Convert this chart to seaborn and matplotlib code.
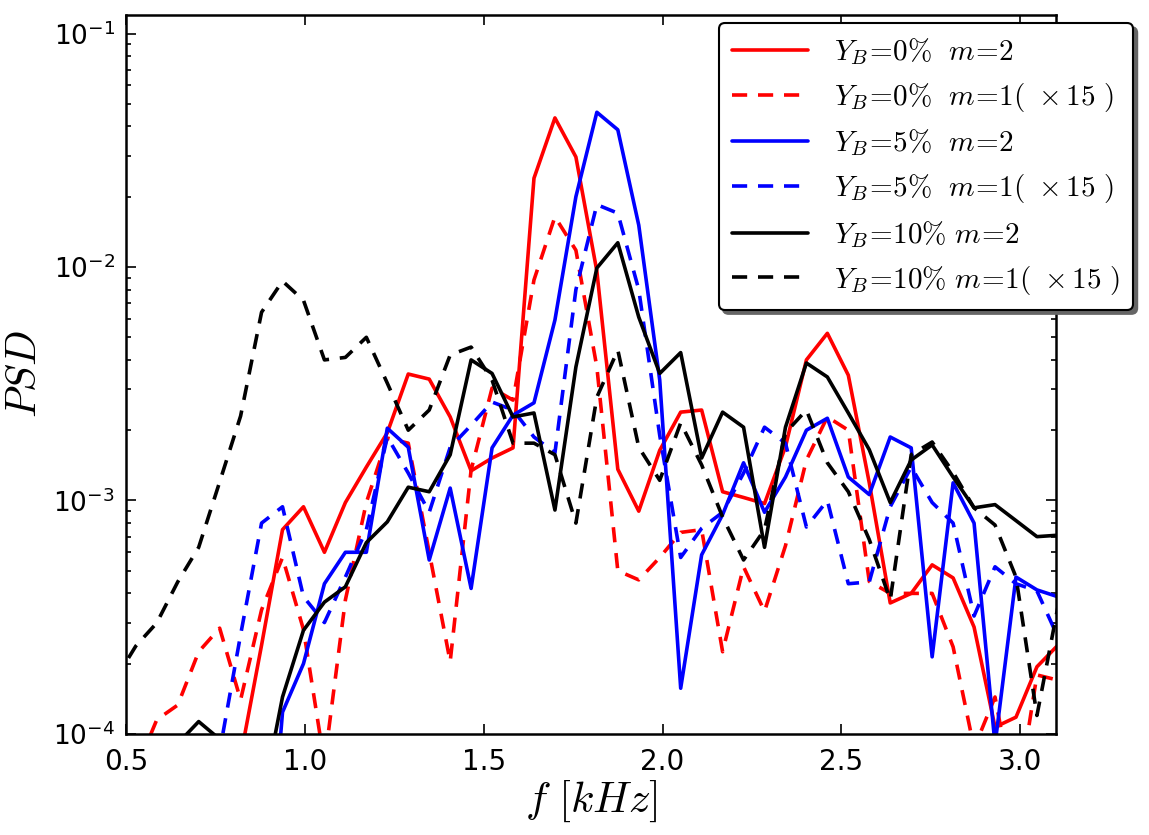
import matplotlib
matplotlib.use("Agg")
import matplotlib.pyplot as plt
from matplotlib.font_manager import FontProperties
import seaborn as sns
import numpy as np

# frequency bins [kHz]
freq = [0.4688, 0.5273, 0.5859, 0.6445, 0.7031, 0.7617, 0.8203, 0.8789, 0.9375, 0.9961,
        1.0547, 1.1133, 1.1719, 1.2305, 1.2891, 1.3477, 1.4063, 1.4648, 1.5234, 1.5820,
        1.6406, 1.6992, 1.7578, 1.8164, 1.8750, 1.9336, 1.9922, 2.0508, 2.1094, 2.1680,
        2.2266, 2.2852, 2.3438, 2.4023, 2.4609, 2.5195, 2.5781, 2.6367, 2.6953, 2.7539,
        2.8125, 2.8711, 2.9297, 2.9883, 3.0469, 3.1055]

# Y_B = 0%
yb0_m2 = [2e-5, 2e-5, 2e-5, 2.5e-5, 3e-5, 4e-5, 8.0e-5, 2.4e-4, 7.5e-4, 9.4e-4,
          6.0e-4, 9.8e-4, 1.39e-3, 1.95e-3, 3.48e-3, 3.31e-3, 2.28e-3, 1.34e-3, 1.52e-3, 1.68e-3,
          2.4e-2, 4.35e-2, 2.96e-2, 9.6e-3, 1.36e-3, 9.0e-4, 1.64e-3, 2.39e-3, 2.44e-3, 1.09e-3,
          1.03e-3, 9.7e-4, 1.7e-3, 4.0e-3, 5.2e-3, 3.44e-3, 1.19e-3, 3.64e-4, 4.0e-4, 5.3e-4,
          4.66e-4, 2.87e-4, 1.07e-4, 1.18e-4, 1.94e-4, 2.4e-4]
yb0_m1 = [5e-5, 7e-5, 1.15e-4, 1.33e-4, 2.25e-4, 2.84e-4, 1.4e-4, 3.4e-4, 5.7e-4, 2.8e-4,
          7.5e-5, 3.75e-4, 9.8e-4, 1.85e-3, 1.76e-3, 6.0e-4, 2.04e-4, 1.35e-3, 3.03e-3, 2.69e-3,
          8.8e-3, 1.64e-2, 1.18e-2, 3.73e-3, 5.0e-4, 4.57e-4, 5.7e-4, 7.3e-4, 7.5e-4, 2.25e-4,
          5.2e-4, 3.35e-4, 6.4e-4, 1.49e-3, 2.28e-3, 2.0e-3, 4.5e-4, 4.0e-4, 4.0e-4, 4.0e-4,
          2.36e-4, 8.7e-5, 1.44e-4, 4.8e-5, 1.79e-4, 1.7e-4]

# Y_B = 5%
yb5_m2 = [1e-5, 1e-5, 1e-5, 1e-5, 1e-5, 1e-5, 1e-5, 1e-5, 1.24e-4, 2.0e-4,
          4.4e-4, 6.0e-4, 6.0e-4, 2.04e-3, 1.69e-3, 5.56e-4, 1.13e-3, 4.2e-4, 1.68e-3, 2.32e-3,
          2.62e-3, 5.93e-3, 2.0e-2, 4.6e-2, 3.87e-2, 1.51e-2, 3.28e-3, 1.57e-4, 5.85e-4, 8.7e-4,
          1.45e-3, 8.9e-4, 1.26e-3, 2.0e-3, 2.25e-3, 1.26e-3, 1.06e-3, 1.87e-3, 1.68e-3, 2.14e-4,
          1.19e-3, 8.0e-4, 9e-5, 4.7e-4, 4.14e-4, 3.87e-4]
yb5_m1 = [2e-5, 2e-5, 2e-5, 2e-5, 2e-5, 8.4e-5, 2.66e-4, 8.0e-4, 9.4e-4, 3.87e-4,
          3.0e-4, 4.7e-4, 7.5e-4, 1.87e-3, 1.31e-3, 8.9e-4, 1.69e-3, 2.1e-3, 2.64e-3, 2.44e-3,
          1.87e-3, 1.6e-3, 8.0e-3, 1.85e-2, 1.70e-2, 8.0e-3, 1.9e-3, 5.7e-4, 7.6e-4, 8.9e-4,
          1.31e-3, 2.06e-3, 1.76e-3, 7.7e-4, 1.0e-3, 4.4e-4, 4.48e-4, 9.4e-4, 1.39e-3, 9.8e-4,
          8.0e-4, 3.2e-4, 5.2e-4, 4.4e-4, 4.1e-4, 2.6e-4]

# Y_B = 10%
yb10_m2 = [5e-5, 6e-5, 7e-5, 9.1e-5, 1.13e-4, 9.5e-5, 3e-5, 5e-5, 1.44e-4, 2.78e-4,
           3.67e-4, 4.27e-4, 6.6e-4, 8.1e-4, 1.14e-3, 1.09e-3, 1.57e-3, 4.0e-3, 3.5e-3, 2.28e-3,
           2.37e-3, 9.1e-4, 3.73e-3, 9.9e-3, 1.27e-2, 6.1e-3, 3.5e-3, 4.3e-3, 1.52e-3, 2.39e-3,
           2.06e-3, 6.3e-4, 2.06e-3, 3.88e-3, 3.38e-3, 2.37e-3, 1.65e-3, 9.8e-4, 1.49e-3, 1.73e-3,
           1.26e-3, 9.3e-4, 9.6e-4, 8.2e-4, 7.0e-4, 7.1e-4]
yb10_m1 = [1.7e-4, 2.38e-4, 2.99e-4, 4.48e-4, 6.3e-4, 1.2e-3, 2.3e-3, 6.4e-3, 8.7e-3, 7.2e-3,
           4.0e-3, 4.1e-3, 5.0e-3, 3.18e-3, 2.0e-3, 2.44e-3, 4.2e-3, 4.54e-3, 3.28e-3, 1.76e-3,
           1.76e-3, 1.57e-3, 8.0e-4, 2.77e-3, 4.41e-3, 1.69e-3, 1.22e-3, 2.15e-3, 1.42e-3, 8.5e-4,
           5.56e-4, 7.5e-4, 1.95e-3, 2.44e-3, 1.45e-3, 1.09e-3, 6.8e-4, 3.75e-4, 1.57e-3, 1.78e-3,
           1.32e-3, 9.3e-4, 7.85e-4, 4.7e-4, 1.2e-4, 3.5e-4]

series = [
    (yb0_m2, "red", "-", r"$Y_B\!=\!0\%\ \ m\!=\!2$"),
    (yb0_m1, "red", "--", r"$Y_B\!=\!0\%\ \ m\!=\!1(\ \times15\ )$"),
    (yb5_m2, "blue", "-", r"$Y_B\!=\!5\%\ \ m\!=\!2$"),
    (yb5_m1, "blue", "--", r"$Y_B\!=\!5\%\ \ m\!=\!1(\ \times15\ )$"),
    (yb10_m2, "black", "-", r"$Y_B\!=\!10\%\ m\!=\!2$"),
    (yb10_m1, "black", "--", r"$Y_B\!=\!10\%\ m\!=\!1(\ \times15\ )$"),
]

sns.set_style("ticks", {"xtick.direction": "in", "ytick.direction": "in",
                        "axes.edgecolor": "black", "text.color": "black",
                        "xtick.color": "black", "ytick.color": "black",
                        "axes.labelcolor": "black"})
plt.rcParams["font.family"] = ["DejaVu Sans"]

fig = plt.figure(figsize=(11.49, 8.35), dpi=100)
ax = fig.add_axes([0.1097, 0.121, 0.8093, 0.861])

for vals, col, ls, lab in series:
    style = "-" if ls == "-" else (0, (4.2, 3.0))
    sns.lineplot(x=freq, y=vals, color=col, linestyle=style, linewidth=2.6,
                 label=lab, ax=ax, sort=False, estimator=None)

ax.set_yscale("log")
ax.set_xlim(0.5, 3.1)
ax.set_ylim(1e-4, 0.12)
ax.set_xticks([0.5, 1.0, 1.5, 2.0, 2.5, 3.0])
ax.set_xticklabels(["0.5", "1.0", "1.5", "2.0", "2.5", "3.0"])
ax.tick_params(which="both", direction="in", top=True, right=True, width=1.2,
               colors="black")
ax.tick_params(axis="x", labelsize=20, pad=10)
ax.tick_params(axis="y", labelsize=19, pad=8)
ax.tick_params(which="major", length=7)
ax.tick_params(which="minor", length=3.5)
ax.tick_params(axis="x", which="minor", bottom=False, top=False)
for sp in ax.spines.values():
    sp.set_linewidth(1.8)
    sp.set_color("black")

ax.set_xlabel(r"$f\ [kHz]$", fontsize=31, math_fontfamily="cm", labelpad=2)
ax.set_ylabel(r"$PSD$", fontsize=30, math_fontfamily="cm", labelpad=6)

leg_font = FontProperties(size=21, math_fontfamily="cm")
leg = ax.legend(loc="upper right", bbox_to_anchor=(1133 / 1149, 1 - 23 / 835),
                bbox_transform=fig.transFigure, borderaxespad=0, prop=leg_font,
                handlelength=2.6, handletextpad=0.9, labelspacing=0.47,
                borderpad=0.45, fancybox=True, framealpha=1,
                shadow={"ox": 3, "oy": -3, "shade": 0.6, "alpha": 1})
leg.get_frame().set_edgecolor("black")
leg.get_frame().set_linewidth(1.5)

fig.savefig("out.png", dpi=100)
